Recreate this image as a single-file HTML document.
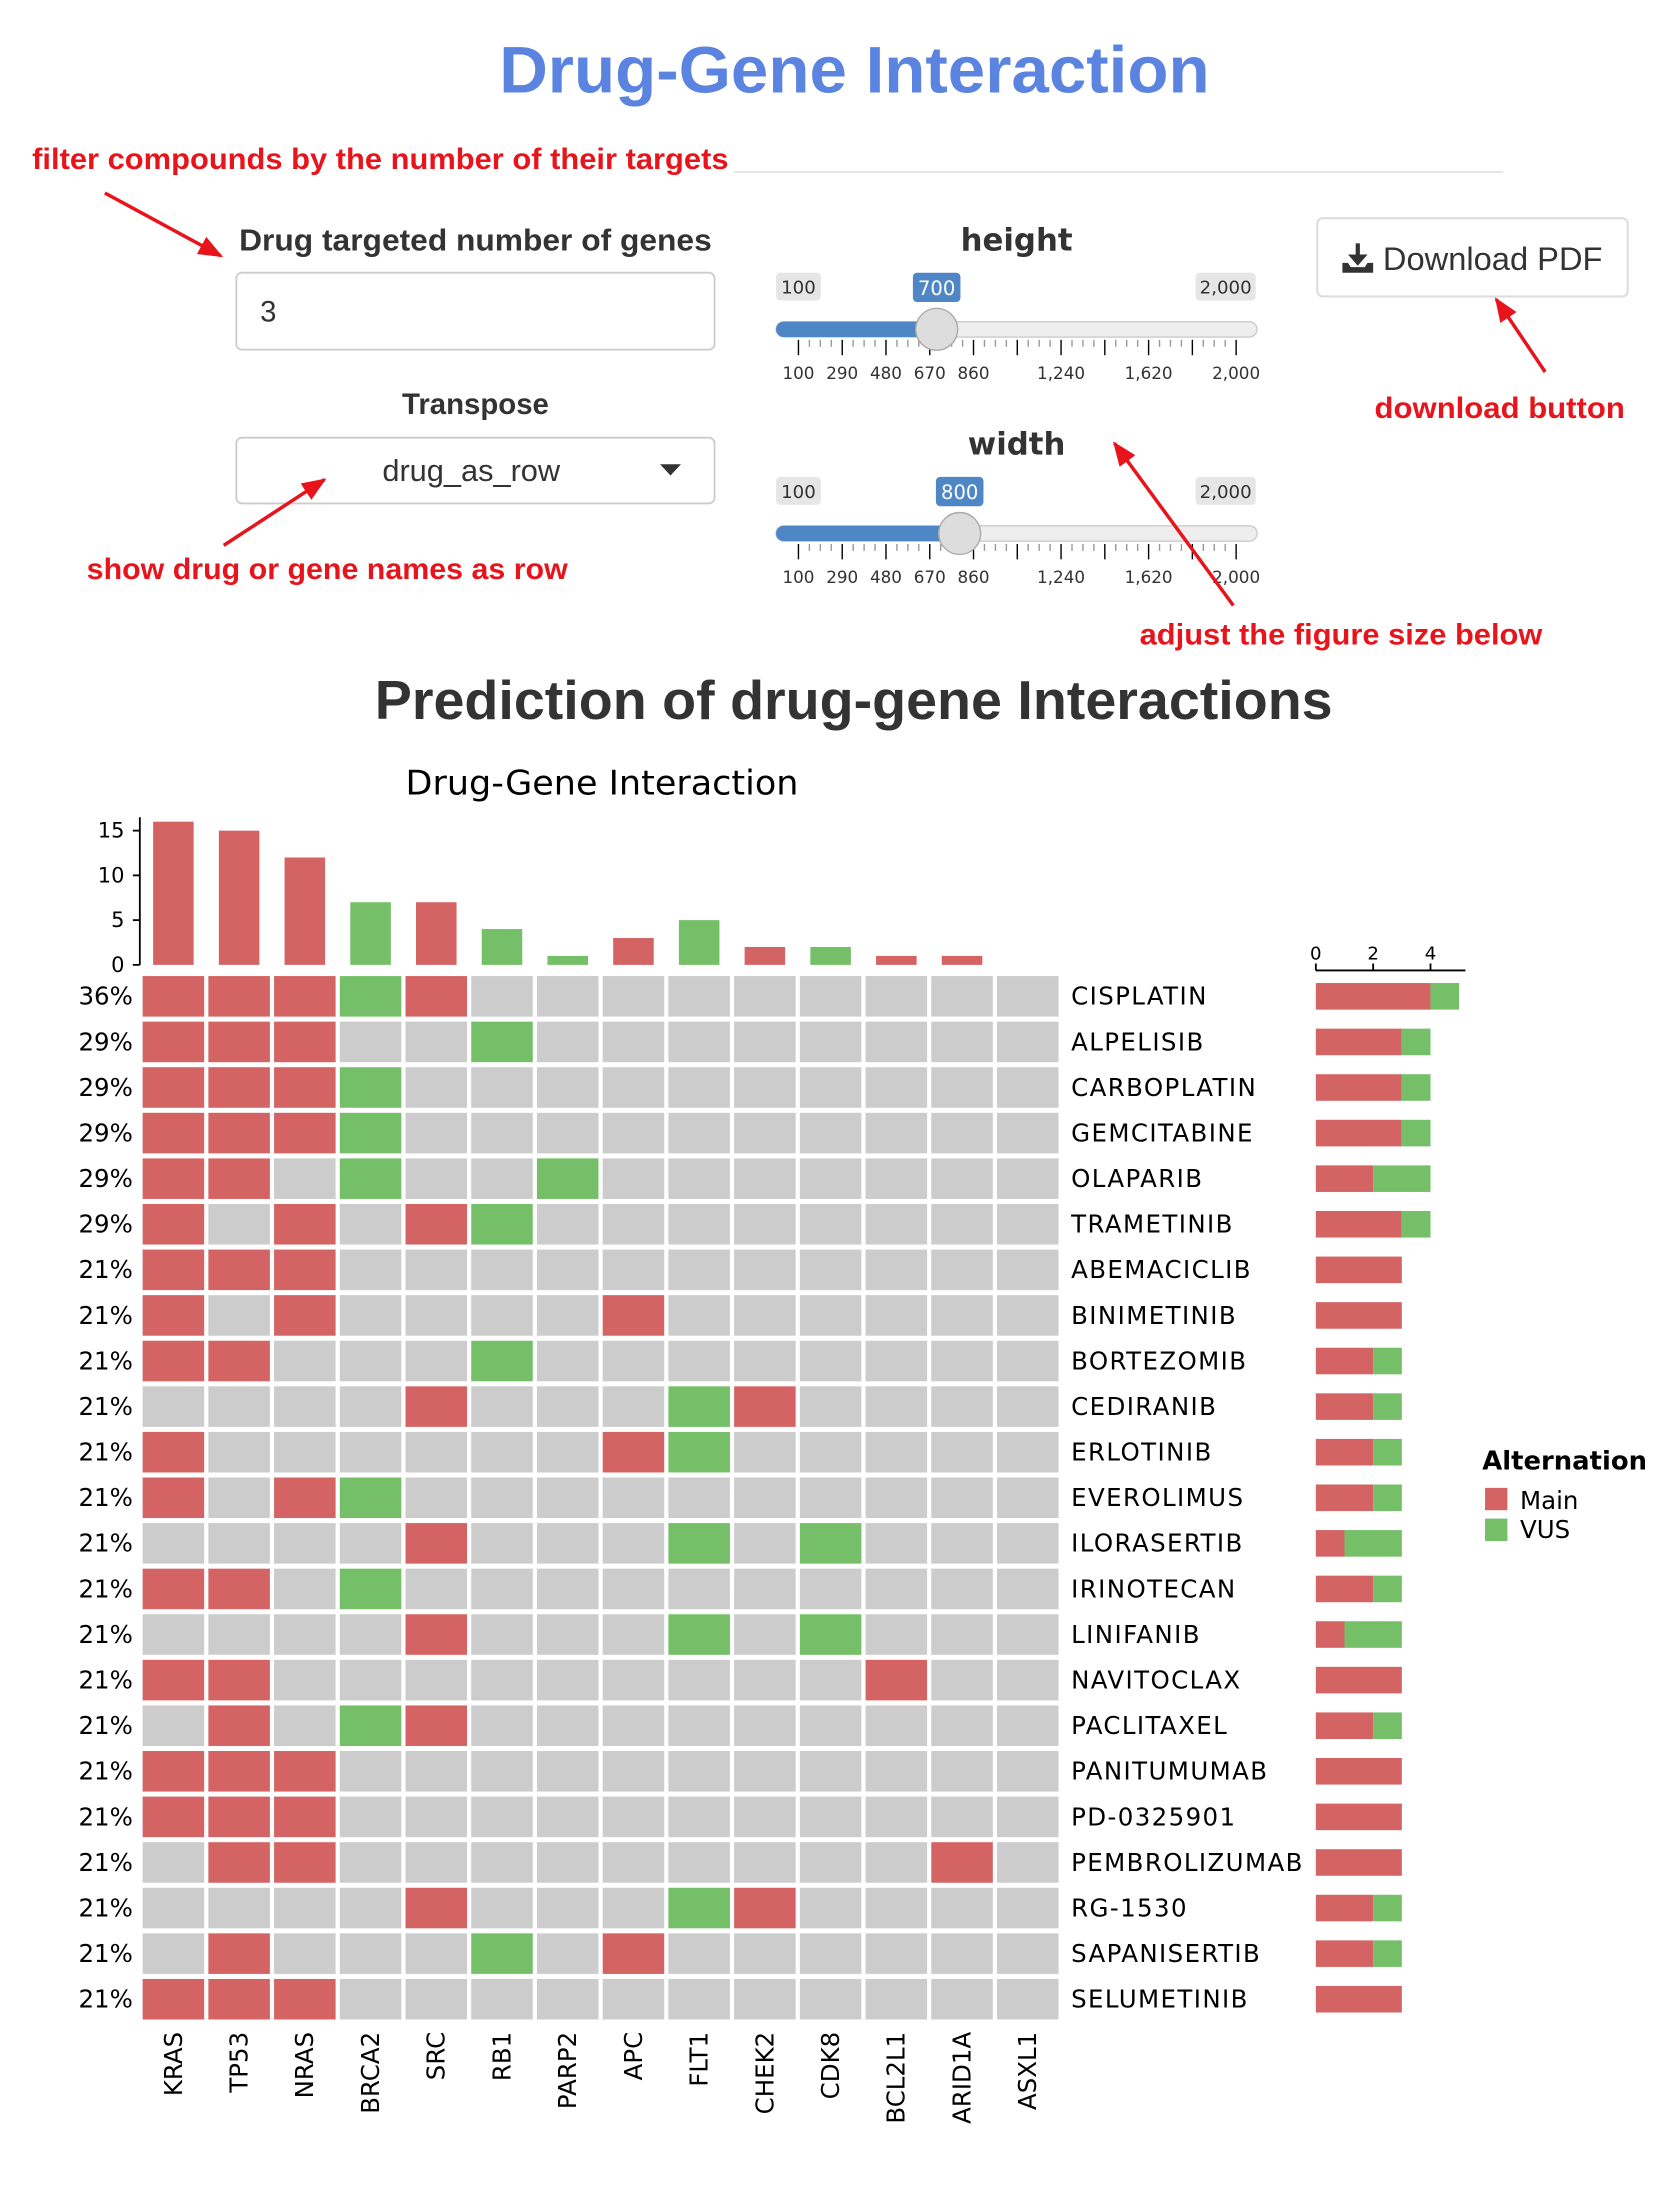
<!DOCTYPE html>
<html><head><meta charset="utf-8"><style>
html,body{margin:0;padding:0;background:#fff;width:1678px;height:2202px;overflow:hidden}
svg text{font-family:"DejaVu Sans","Liberation Sans",sans-serif}
.ui{font-family:"Liberation Sans",sans-serif}
.ann{font-family:"Liberation Sans",sans-serif;font-weight:bold;fill:#e8141c;font-size:21px}
</style></head><body>
<svg id="root" width="1678" height="2202" viewBox="0 0 1200 1574.7" xmlns="http://www.w3.org/2000/svg">
<defs><marker id="ah" viewBox="0 0 10 10" refX="9" refY="5" markerWidth="7" markerHeight="7" orient="auto"><path d="M0,1 L10,5 L0,9 z" fill="#e8141c"/></marker></defs>
<text class="ui" x="357" y="66" textLength="508" lengthAdjust="spacingAndGlyphs" font-size="47" font-weight="bold" fill="#5b84e0">Drug-Gene Interaction</text>
<line x1="525" y1="123" x2="1075" y2="123" stroke="#e6e6e6" stroke-width="1.5"/>
<text class="ann" x="23" y="121" textLength="498" lengthAdjust="spacingAndGlyphs">filter compounds by the number of their targets</text>
<line x1="75" y1="138" x2="158" y2="183" stroke="#e8141c" stroke-width="2.5" marker-end="url(#ah)"/>
<text class="ui" x="171" y="179" textLength="338" lengthAdjust="spacingAndGlyphs" font-size="22" font-weight="bold" fill="#333">Drug targeted number of genes</text>
<rect x="169" y="195" width="342" height="55" rx="4" fill="#fff" stroke="#ccc" stroke-width="1.3"/>
<text class="ui" x="186" y="230" font-size="21" fill="#333">3</text>
<text class="ui" x="340" y="296" text-anchor="middle" font-size="21" font-weight="bold" fill="#333">Transpose</text>
<rect x="169" y="313" width="342" height="47" rx="4" fill="#fff" stroke="#ccc" stroke-width="1.3"/>
<text class="ui" x="337" y="344" text-anchor="middle" font-size="22" fill="#333">drug_as_row</text>
<path d="M472,332 L487,332 L479.5,340 z" fill="#333"/>
<text class="ann" x="62" y="414" textLength="344" lengthAdjust="spacingAndGlyphs">show drug or gene names as row</text>
<line x1="160" y1="390" x2="232" y2="343" stroke="#e8141c" stroke-width="2.5" marker-end="url(#ah)"/>
<g id="sliders"></g>
<rect x="942" y="156" width="222" height="56" rx="4" fill="#fff" stroke="#ddd" stroke-width="1.5"/>
<g fill="#333"><rect x="969.5" y="174" width="3" height="10"/><path d="M964,182 L978,182 L971,190 z"/><path d="M960,188 L964,188 L966,191 L976,191 L978,188 L982,188 L982,195 L960,195 z"/></g>
<text class="ui" x="989" y="193" textLength="157" lengthAdjust="spacingAndGlyphs" font-size="23" fill="#333">Download PDF</text>
<text class="ann" x="983" y="299" textLength="179" lengthAdjust="spacingAndGlyphs">download button</text>
<line x1="1105" y1="266" x2="1070" y2="214" stroke="#e8141c" stroke-width="2.5" marker-end="url(#ah)"/>
<text class="ann" x="815" y="461" textLength="288" lengthAdjust="spacingAndGlyphs">adjust the figure size below</text>
<line x1="882" y1="433" x2="797" y2="317" stroke="#e8141c" stroke-width="2.5" marker-end="url(#ah)"/>
<text class="ui" x="268" y="514" textLength="685" lengthAdjust="spacingAndGlyphs" font-size="39" font-weight="bold" fill="#333">Prediction of drug-gene Interactions</text>
<text x="290" y="568" textLength="281" lengthAdjust="spacingAndGlyphs" font-size="24.5" fill="#000">Drug-Gene Interaction</text>
<g id="chart"></g>
</svg>
<script>
const genes=["KRAS","TP53","NRAS","BRCA2","SRC","RB1","PARP2","APC","FLT1","CHEK2","CDK8","BCL2L1","ARID1A","ASXL1"];
const drugs=["CISPLATIN","ALPELISIB","CARBOPLATIN","GEMCITABINE","OLAPARIB","TRAMETINIB","ABEMACICLIB","BINIMETINIB","BORTEZOMIB","CEDIRANIB","ERLOTINIB","EVEROLIMUS","ILORASERTIB","IRINOTECAN","LINIFANIB","NAVITOCLAX","PACLITAXEL","PANITUMUMAB","PD-0325901","PEMBROLIZUMAB","RG-1530","SAPANISERTIB","SELUMETINIB"];
const matrix=[
"MMMVM.........","MMM..V........","MMMV..........","MMMV..........",
"MM.V..V.......","M.M.MV........","MMM...........","M.M....M......",
"MM...V........","....M...VM....","M......MV.....","M.MV..........",
"....M...V.V...","MM.V..........","....M...V.V...","MM.........M..",
".M.VM.........","MMM...........","MMM...........",".MM.........M.",
"....M...VM....",".M...V.M......","MMM..........."];
const pctLabels=["36%","29%","29%","29%","29%","29%","21%","21%","21%","21%","21%","21%","21%","21%","21%","21%","21%","21%","21%","21%","21%","21%","21%"];
const topTicks=[0,5,10,15];
const rightTicks=[0,2,4];
const sliderTicks=[100,290,480,670,860,1240,1620,2000];
const sliderValues=[700,800];
const NS="http://www.w3.org/2000/svg";
function mk(p,t,a){const e=document.createElementNS(NS,t);for(const k in a)e.setAttribute(k,a[k]);p.appendChild(e);return e;}
const RED="#d46363",GREEN="#74bf67",GRAY="#cccccc";
const ch=document.getElementById('chart');
const x0=102,pitchX=47,cw=44,y0=698,pitchY=32.6,chh=29;
const colX=i=>x0+i*pitchX, rowY=j=>y0+j*pitchY;
const topBase=690,topK=6.4,topY=v=>topBase-v*topK;
const rX0=941,rK=20.5,rX=v=>rX0+v*rK;
matrix.forEach((r,j)=>{for(let i=0;i<genes.length;i++){const c=r[i];
 const el=mk(ch,'rect',{x:colX(i),y:rowY(j),width:cw,height:chh,fill:c==='M'?RED:c==='V'?GREEN:GRAY});
 
 }});
genes.forEach((g,i)=>{let m=0,v=0;matrix.forEach(r=>{if(r[i]==='M')m++;if(r[i]==='V')v++;});
 const cx=colX(i)+cw/2;
 if(m>0){const b=mk(ch,'rect',{x:cx-14.5,y:topY(m),width:29,height:m*topK,fill:RED});}
 if(v>0){const b=mk(ch,'rect',{x:cx-14.5,y:topY(m+v),width:29,height:v*topK,fill:GREEN});}
 const t=mk(ch,'text',{x:0,y:0,'font-size':17.5,'text-anchor':'end',transform:`translate(${cx+6},1453) rotate(-90)`});t.textContent=g;
 
 });
const ya=mk(ch,'line',{x1:100,y1:topY(16.5),x2:100,y2:topBase,stroke:'#000','stroke-width':1.3});


topTicks.forEach(v=>{mk(ch,'line',{x1:95,x2:100,y1:topY(v),y2:topY(v),stroke:'#000','stroke-width':1.3});
 const t=mk(ch,'text',{x:89,y:topY(v)+5,'text-anchor':'end','font-size':15});t.textContent=v;
 
 });
drugs.forEach((d,j)=>{const cy=rowY(j)+chh/2;
 const p=mk(ch,'text',{x:95,y:cy+6,'text-anchor':'end','font-size':17.5});p.textContent=pctLabels[j];
 
 
 const t=mk(ch,'text',{x:766,y:cy+6,'font-size':17.5,'letter-spacing':'1'});t.textContent=d;
 
 
 let m=0,v=0;for(const c of matrix[j]){if(c==='M')m++;if(c==='V')v++;}
 const b1=mk(ch,'rect',{x:rX(0),y:cy-9.5,width:m*rK,height:19,fill:RED});
 if(v>0){const b2=mk(ch,'rect',{x:rX(m),y:cy-9.5,width:v*rK,height:19,fill:GREEN});}
});
const xa=mk(ch,'line',{x1:rX0,y1:694,x2:1048,y2:694,stroke:'#000','stroke-width':1.3});


rightTicks.forEach(v=>{mk(ch,'line',{x1:rX(v),x2:rX(v),y1:689,y2:694,stroke:'#000','stroke-width':1.3});
 const t=mk(ch,'text',{x:rX(v),y:686,'text-anchor':'middle','font-size':13});t.textContent=v;
 
 });
const lg=mk(ch,'g',{});


mk(lg,'text',{x:1060,y:1051,'font-size':18.5,'font-weight':'bold'}).textContent='Alternation';
mk(lg,'rect',{x:1062,y:1064,width:16,height:16,fill:RED});
mk(lg,'text',{x:1087,y:1079,'font-size':17.5}).textContent='Main';
mk(lg,'rect',{x:1062,y:1086,width:16,height:16,fill:GREEN});
mk(lg,'text',{x:1087,y:1100,'font-size':17.5}).textContent='VUS';
const sl=document.getElementById('sliders');
const sX=v=>571+(v-100)*(313/1900);
["height","width"].forEach((nm,k)=>{const off=k*146;
 const g=mk(sl,'g',{class:'ui'});
 
 
 const t=mk(g,'text',{x:727,y:k?325:179,'text-anchor':'middle','font-size':22,'font-weight':'bold',fill:'#333','font-family':'Liberation Sans'});t.textContent=nm;
 const val=sliderValues[k],hx=sX(val);
 mk(g,'rect',{x:555,y:195+off,width:32,height:20,rx:3,fill:'#e6e6e6'});
 mk(g,'text',{x:571,y:210+off,'text-anchor':'middle','font-size':13,fill:'#333','font-family':'Liberation Sans'}).textContent='100';
 mk(g,'rect',{x:855,y:195+off,width:43,height:20,rx:3,fill:'#e6e6e6'});
 mk(g,'text',{x:876.5,y:210+off,'text-anchor':'middle','font-size':13,fill:'#333','font-family':'Liberation Sans'}).textContent='2,000';
 mk(g,'rect',{x:hx-17,y:195+off,width:34,height:21,rx:3,fill:'#4f86c6'});
 mk(g,'text',{x:hx,y:211+off,'text-anchor':'middle','font-size':14,fill:'#fff','font-family':'Liberation Sans'}).textContent=val;
 mk(g,'rect',{x:555,y:230+off,width:344,height:11,rx:5.5,fill:'#eee',stroke:'#ccc','stroke-width':1});
 mk(g,'rect',{x:555,y:230+off,width:hx-555,height:11,rx:5.5,fill:'#4f86c6'});
 for(let v=100;v<=2000.1;v+=47.5){const maj=Math.abs(((v-100)/190)-Math.round((v-100)/190))<0.01;
  mk(g,'line',{x1:sX(v),x2:sX(v),y1:243+off,y2:(maj?254:248)+off,stroke:maj?'#000':'#999','stroke-width':1});}
 sliderTicks.forEach(v=>{mk(g,'text',{x:sX(v),y:271+off,'text-anchor':'middle','font-size':12,fill:'#333','font-family':'Liberation Sans'}).textContent=v.toLocaleString('en-US');});
 mk(g,'circle',{cx:hx,cy:235.5+off,r:15,fill:'#ddd',stroke:'#aaa','stroke-width':1});
});
</script>
</body></html>
